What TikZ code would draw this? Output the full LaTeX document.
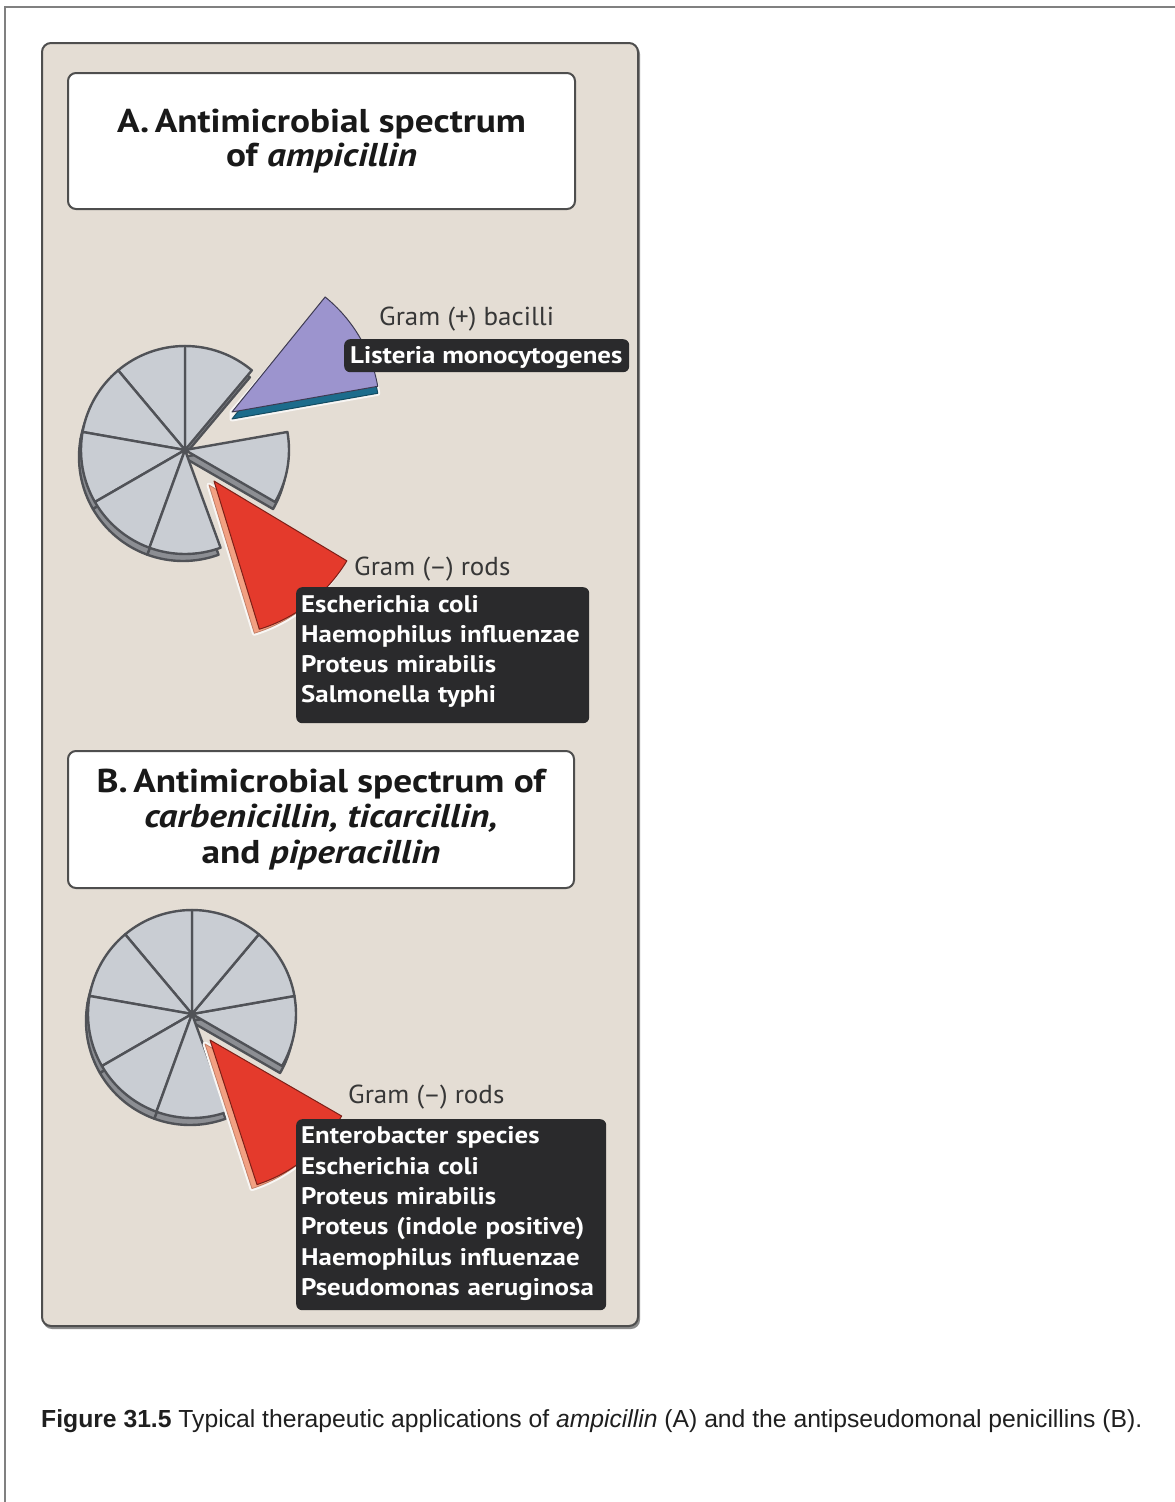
\documentclass[tikz,border=0pt]{standalone}
\usepackage{fontspec}
\setmainfont{PT Sans}
\newfontfamily\titlefam[FakeStretch=1.13]{PT Sans}
\newfontfamily\listfam[FakeStretch=1.12]{PT Sans}
\newfontfamily\labelfam[FakeStretch=1.04]{PT Sans}
\newfontfamily\capfont{Liberation Sans}

\definecolor{panelbg}{RGB}{228,221,212}
\definecolor{panelline}{RGB}{78,78,78}
\definecolor{pagegray}{RGB}{128,128,128}
\definecolor{pietop}{RGB}{201,205,211}
\definecolor{pieedge}{RGB}{80,82,87}
\definecolor{pieside}{RGB}{140,142,147}
\definecolor{lilac}{RGB}{156,148,206}
\definecolor{sidecyan}{RGB}{28,108,140}
\definecolor{redslice}{RGB}{228,58,44}
\definecolor{salmonside}{RGB}{242,160,130}
\definecolor{boxdark}{RGB}{42,42,44}
\definecolor{labelgray}{RGB}{55,55,55}

\newcommand{\titlefontA}{\titlefam\fontsize{33}{34}\selectfont\bfseries}
\newcommand{\titlefontB}{\titlefam\fontsize{33}{35.5}\selectfont\bfseries}
\newcommand{\listfont}{\listfam\fontsize{24}{30}\selectfont\bfseries}
\newcommand{\listfontB}{\listfam\fontsize{24}{30.4}\selectfont\bfseries}

\tikzset{
  panel/.style={fill=panelbg, draw=panelline, line width=2, rounded corners=9},
  titlebox/.style={draw=panelline, line width=2, fill=white, rounded corners=8,
    align=center, text=black!90, inner sep=0},
  gramlabel/.style={font=\labelfam\fontsize{26}{30}\selectfont, text=labelgray, inner sep=0},
  listbox/.style={fill=boxdark, rounded corners=6, inner sep=0},
  listtext/.style={text=white, font=\listfont, inner sep=0, align=left},
  sliceside/.style={fill=pieside, draw=pieedge, line width=2.4, line join=round},
  slicetop/.style={fill=pietop, draw=pieedge, line width=2.4, line join=round},
  halo/.style={draw=white!75!panelbg, line width=5, line join=round},
  lilacside/.style={fill=sidecyan, draw=sidecyan!70!black, line width=1, line join=round},
  lilactop/.style={fill=lilac, draw=black!60!lilac, line width=1, line join=round},
  redside/.style={fill=salmonside, draw=salmonside!80!black, line width=0.8, line join=round},
  redtop/.style={fill=redslice, draw=redslice!55!black, line width=1, line join=round},
}

\begin{document}
\begin{tikzpicture}[x=1pt,y=1pt]
\useasboundingbox (0,0) rectangle (1175,-1502);
\fill[white] (0,0) rectangle (1175,-1502);

% page frame (top and left rules)
\draw[pagegray, line width=2] (5,-1502) -- (5,-7) -- (1175,-7);

% beige panel with a soft shadow
\fill[black!45, rounded corners=9] (43,-45) rectangle (640,-1329);
\draw[panel] (42,-43) rectangle (638,-1326);

% ---------- part A ----------
\node[titlebox, font=\titlefontA, minimum width=507, minimum height=136, anchor=north west]
  (titleA) at (67,-72) {A.\,Antimicrobial spectrum\\ of \textit{ampicillin}};

% pie A: remaining grey slices
\begin{scope}[shift={(185,-450)}]
  \foreach \a in {-30,50,90,130,170,210,250}
    \draw[sliceside] (-2,-7) -- ++(\a:104) arc[start angle=\a, delta angle=40, radius=104] -- cycle;
  \foreach \a in {-30,50,90,130,170,210,250}
    \draw[slicetop] (0,0) -- (\a:104) arc[start angle=\a, delta angle=40, radius=104] -- cycle;
\end{scope}

% pie A: Gram (+) slice pulled out
\begin{scope}[shift={(232,-412)}]
  \draw[halo] (0,-7) -- ++(10:148) arc[start angle=10, end angle=51, radius=148] -- (0,0) -- cycle;
  \draw[lilacside] (0,-7) -- ++(10:148) arc[start angle=10, end angle=51, radius=148] -- cycle;
  \draw[lilactop] (0,0) -- (10:148) arc[start angle=10, end angle=51, radius=148] -- cycle;
\end{scope}

% pie A: Gram (-) slice pulled out
\begin{scope}[shift={(214,-481)}]
  \draw[halo] (-5,-4) -- ++(-73:155) arc[start angle=-73, end angle=-31, radius=155] -- cycle;
  \draw[redside] (-5,-4) -- ++(-73:155) arc[start angle=-73, end angle=-31, radius=155] -- cycle;
  \draw[redtop] (0,0) -- (-73:155) arc[start angle=-73, end angle=-31, radius=155] -- cycle;
\end{scope}

\node[gramlabel, anchor=base west] (gramposA) at (379,-325) {Gram (+) bacilli};
\node[listbox, minimum width=285, minimum height=33, anchor=north west]
  (listeriaAbox) at (344,-339) {};
\node[listtext, anchor=base west] (listeriaA) at (350,-363) {Listeria monocytogenes};

\node[gramlabel, anchor=base west] (gramnegA) at (354,-575) {Gram (\textendash) rods};
\node[listbox, minimum width=293, minimum height=136, anchor=north west]
  (rodsAbox) at (296,-587) {};
\node[listtext, text width=283] (rodsA) at ([yshift=4pt]rodsAbox.center)
  {Escherichia coli\\Haemophilus influenzae\\Proteus mirabilis\\Salmonella typhi};

% ---------- part B ----------
\node[titlebox, font=\titlefontB, minimum width=506, minimum height=137, anchor=north west]
  (titleB) at (67,-750) {B.\,Antimicrobial spectrum of\\ \textit{carbenicillin, ticarcillin,}\\ and \textit{piperacillin}};

\begin{scope}[shift={(192,-1014)}]
  \foreach \a in {-30,10,50,90,130,170,210,250}
    \draw[sliceside] (-2,-7) -- ++(\a:104) arc[start angle=\a, delta angle=40, radius=104] -- cycle;
  \foreach \a in {-30,10,50,90,130,170,210,250}
    \draw[slicetop] (0,0) -- (\a:104) arc[start angle=\a, delta angle=40, radius=104] -- cycle;
\end{scope}

\begin{scope}[shift={(210,-1040)}]
  \draw[halo] (-5,-4) -- ++(-72:152) arc[start angle=-72, end angle=-30, radius=152] -- cycle;
  \draw[redside] (-5,-4) -- ++(-72:152) arc[start angle=-72, end angle=-30, radius=152] -- cycle;
  \draw[redtop] (0,0) -- (-72:152) arc[start angle=-72, end angle=-30, radius=152] -- cycle;
\end{scope}

\node[gramlabel, anchor=base west] (gramnegB) at (348,-1103) {Gram (\textendash) rods};
\node[listbox, minimum width=310, minimum height=191, anchor=north west]
  (rodsBbox) at (296,-1119) {};
\node[listtext, font=\listfontB, text width=300] (rodsB) at ([yshift=1pt]rodsBbox.center)
  {Enterobacter species\\Escherichia coli\\Proteus mirabilis\\Proteus (indole positive)\\Haemophilus influenzae\\Pseudomonas aeruginosa};

% ---------- caption ----------
\node[anchor=base west, inner sep=0, text=black!88, font=\capfont\fontsize{24.7}{28}\selectfont]
  (caption) at (41,-1427) {\textbf{Figure 31.5} Typical therapeutic applications of \textit{ampicillin} (A) and the antipseudomonal penicillins (B).};
\end{tikzpicture}
\end{document}
